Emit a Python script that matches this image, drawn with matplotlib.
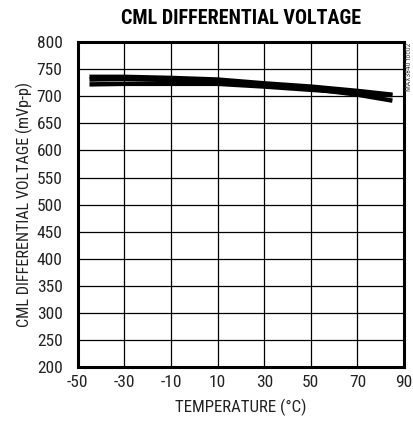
import matplotlib
matplotlib.use("Agg")
import matplotlib.pyplot as plt
from matplotlib import font_manager

names = {f.name for f in font_manager.fontManager.ttflist}
fam = "DejaVu Sans"
for cand in ["Liberation Sans Narrow", "Arial Narrow", "Roboto Condensed", "Archivo Narrow",
             "PT Sans Narrow", "Pragati Narrow", "Fira Sans Condensed", "IBM Plex Sans Condensed"]:
    if cand in names:
        fam = cand
        break
plt.rcParams["font.family"] = [fam, "DejaVu Sans"]
plt.rcParams["axes.unicode_minus"] = False

# data
temp = [-45, -30, -10, 10, 30, 50, 70, 85]
vdiff_a = [736, 736, 734, 731, 724, 718, 710, 703]
vdiff_b = [731, 732, 730, 726, 720, 714, 703, 692]
vdiff_c = [722, 723, 723, 723, 718, 712, 706, 702]

xticks = [-50, -30, -10, 10, 30, 50, 70, 90]
yticks = list(range(200, 801, 50))

fig = plt.figure(figsize=(4.14, 4.26), dpi=100)
ax = fig.add_axes([0.188, 0.1385, 0.788, 0.7625])

for v in (vdiff_a, vdiff_b, vdiff_c):
    ax.plot(temp, v, color="black", lw=3.2, solid_capstyle="butt")

ax.set_xlim(-50, 90)
ax.set_ylim(200, 800)
ax.set_xticks(xticks)
ax.set_yticks(yticks)
for x in range(-30, 90, 20):
    ax.axvline(x, color="black", lw=0.9)
for y in yticks[1:-1]:
    ax.axhline(y, color="black", lw=0.9)
ax.tick_params(length=0, labelsize=12.5, colors="#222222")
ax.tick_params(axis="x", pad=6)
ax.tick_params(axis="y", pad=11)
for s in ax.spines.values():
    s.set_linewidth(2.2)

ax.set_title("CML DIFFERENTIAL VOLTAGE", fontsize=14.5, fontweight="bold", pad=13)
ax.set_xlabel("TEMPERATURE (°C)", fontsize=12.2, labelpad=6, color="#222222")
ax.set_ylabel("CML DIFFERENTIAL VOLTAGE (mVp-p)", fontsize=11.6, labelpad=3, color="#222222")
fig.text(0.980, 0.9, "MAX3840 toc02", rotation=90, fontsize=5.5, va="top", ha="left", color="#444444")

fig.savefig("out.png", dpi=100)
